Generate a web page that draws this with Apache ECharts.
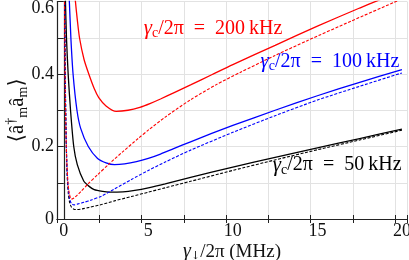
<!DOCTYPE html>
<html><head><meta charset="utf-8">
<script src="https://cdn.jsdelivr.net/npm/echarts@6/dist/echarts.min.js"></script>
<style>html,body{margin:0;padding:0;background:#fff}#c{width:409px;height:260px}</style>
</head><body><div id="c"></div>
<script>
// gamma_down/2pi (MHz), <a^dag a> values
const redSolid = [[0.6,0.65],[0.69,0.6],[0.8,0.55],[0.93,0.5],[1.2,0.44],[1.48,0.4],[1.8,0.36],[2.07,0.335],[2.5,0.312],[3.1,0.297],[3.8,0.3],[4.5,0.308],[5.13,0.319],[5.72,0.331],[6.5,0.348],[7.5,0.37],[8.75,0.398],[10,0.426],[12.5,0.479],[15,0.532],[17.5,0.582],[18.6,0.603],[20,0.63]];
const redDashed = [[0.04,0.65],[0.06,0.5],[0.09,0.35],[0.13,0.24],[0.18,0.16],[0.25,0.1],[0.33,0.07],[0.45,0.055],[0.6,0.058],[0.8,0.066],[1.0,0.075],[1.44,0.097],[2.0,0.122],[2.66,0.151],[3.5,0.186],[4.4,0.222],[5.05,0.247],[6,0.281],[7.5,0.329],[9,0.37],[10.46,0.405],[12.5,0.451],[14.4,0.492],[17,0.546],[19.5,0.597],[20,0.607]];
const blueSolid = [[0.25,0.66],[0.33,0.6],[0.42,0.5],[0.55,0.4],[0.78,0.3],[1.0,0.25],[1.45,0.2],[2.0,0.167],[2.5,0.155],[3.0,0.15],[3.6,0.152],[4.3,0.158],[5,0.167],[5.72,0.179],[6.5,0.194],[7.5,0.213],[8.75,0.236],[10,0.258],[12.5,0.3],[15,0.34],[17.5,0.377],[20,0.412]];
const blueDashed = [[0.05,0.66],[0.07,0.5],[0.1,0.35],[0.15,0.21],[0.2,0.13],[0.27,0.08],[0.35,0.055],[0.45,0.043],[0.6,0.039],[0.8,0.041],[1.2,0.046],[1.6,0.052],[2.23,0.063],[3,0.083],[4,0.109],[5,0.134],[6,0.157],[7.5,0.19],[10,0.239],[12.5,0.285],[15,0.328],[17.5,0.366],[20,0.403]];
const blackSolid = [[0.06,0.66],[0.1,0.6],[0.16,0.5],[0.26,0.4],[0.4,0.3],[0.59,0.2],[0.8,0.15],[1.18,0.105],[1.5,0.09],[1.8,0.081],[2.3,0.076],[2.7,0.074],[3.5,0.075],[4.2,0.079],[5,0.086],[6,0.097],[7.5,0.115],[10,0.143],[12.5,0.17],[15,0.196],[17.5,0.222],[20,0.248]];
const blackDashed = [[0.05,0.66],[0.07,0.5],[0.1,0.35],[0.15,0.2],[0.2,0.12],[0.27,0.07],[0.35,0.045],[0.45,0.033],[0.6,0.027],[0.8,0.026],[1.1,0.028],[1.5,0.032],[2.23,0.04],[3,0.05],[4,0.062],[5,0.074],[6,0.086],[7.5,0.104],[10,0.134],[12.5,0.163],[15,0.191],[17.5,0.218],[20,0.245]];
const xTickValues = [0, 5, 10, 15, 20];
const yTickLabels = ['0', '0.2', '0.4', '0.6'];
const annotations = [
  {value: '200', color: '#ff0000', coord: [8.83, 0.526]},
  {value: '100', color: '#0000ff', coord: [15.74, 0.434]},
  {value: '50', color: '#000000', coord: [16.17, 0.149]}
];

const FONT = "'Liberation Serif', 'DejaVu Serif', serif";
const chart = echarts.init(document.getElementById('c'), null, {renderer: 'canvas'});

function annotRich(color) {
  return {
    g: {fontFamily: FONT, fontSize: 21, color: color, fontStyle: 'italic', lineHeight: 24, verticalAlign: 'middle'},
    s: {fontFamily: FONT, fontSize: 14, color: color, lineHeight: 24, verticalAlign: 'bottom'},
    t: {fontFamily: FONT, fontSize: 20, color: color, lineHeight: 24, verticalAlign: 'middle'}
  };
}
function markFor(a) {
  return {
    symbol: 'rect', symbolSize: 1, silent: true,
    itemStyle: {color: 'rgba(0,0,0,0)'},
    label: {show: true, position: 'inside',
      formatter: '{g|γ}{s|c}{t|/2π\u2002=\u2002' + a.value + '\u2009kHz}',
      rich: annotRich(a.color)},
    data: [{coord: a.coord}]
  };
}

const axisLineStyle = {color: '#222', width: 1.2};
const series = [
  {data: blackDashed, color: '#000', dashed: true},
  {data: blackSolid, color: '#000', dashed: false, ann: annotations[2]},
  {data: blueDashed, color: '#0000ff', dashed: true},
  {data: blueSolid, color: '#0000ff', dashed: false, ann: annotations[1]},
  {data: redDashed, color: '#ff0000', dashed: true},
  {data: redSolid, color: '#ff0000', dashed: false, ann: annotations[0]}
].map(s => {
  const o = {
    type: 'line', data: s.data, showSymbol: false, smooth: 0.25,
    clip: true, animation: false,
    lineStyle: {color: s.color, width: s.dashed ? 1.1 : 1.3, type: s.dashed ? [3, 1.6] : 'solid'}
  };
  if (s.ann) o.markPoint = markFor(s.ann);
  return o;
});

chart.setOption({
  animation: false,
  backgroundColor: '#fff',
  grid: {left: 57, right: 2, top: 1.5, bottom: 41, containLabel: false, outerBoundsMode: 'none'},
  xAxis: [{
    type: 'value', min: -0.4, max: 20.3, interval: 2.5,
    axisLine: {show: true, lineStyle: axisLineStyle, onZero: false},
    axisTick: {show: true, inside: true, length: 4, lineStyle: {color: '#222'}},
    splitLine: {show: true, lineStyle: {color: '#e2e2e2', width: 1}},
    axisLabel: {customValues: xTickValues, fontFamily: FONT, fontSize: 18, color: '#111', margin: 3,
      formatter: v => String(v)},
    name: '{g|γ}{s|↓}{t|/2π (MHz)}', nameLocation: 'middle', nameGap: 23, nameMoveOverlap: false,
    nameTextStyle: {verticalAlign: 'top', rich: {
      g: {fontFamily: FONT, fontSize: 20, fontStyle: 'italic', color: '#111', lineHeight: 20, verticalAlign: 'middle'},
      s: {fontFamily: "'DejaVu Serif', serif", fontSize: 11, color: '#111', lineHeight: 20, verticalAlign: 'bottom'},
      t: {fontFamily: FONT, fontSize: 19, color: '#111', lineHeight: 20, verticalAlign: 'middle'}
    }}
  }, {
    type: 'value', position: 'top', min: -0.4, max: 20.3, interval: 2.5,
    axisLine: {show: true, lineStyle: axisLineStyle},
    axisTick: {show: true, inside: true, length: 4, lineStyle: {color: '#222'}},
    splitLine: {show: false}, axisLabel: {show: false}
  }],
  yAxis: [{
    type: 'value', min: 0, max: 0.6, interval: 0.1,
    axisLine: {show: true, lineStyle: axisLineStyle, onZero: false},
    axisTick: {show: true, inside: true, length: 4, lineStyle: {color: '#222'}},
    splitLine: {show: true, lineStyle: {color: '#e2e2e2', width: 1}},
    axisLabel: {fontFamily: FONT, fontSize: 18, color: '#111', margin: 3,
      formatter: v => { const s = String(Math.round(v*10)/10); if (yTickLabels.indexOf(s) < 0) return ''; return s === '0.6' ? '{top|' + s + '}' : s; },
      rich: {top: {fontFamily: FONT, fontSize: 18, color: '#111', padding: [14, 0, 0, 0]}}},
    name: '{t|⟨â}{p|†}{b|m}{t|â}{b|m}{t|⟩}', nameLocation: 'middle', nameGap: 27, nameMoveOverlap: false,
    nameTextStyle: {rich: {
      t: {fontFamily: FONT, fontSize: 21, color: '#111', lineHeight: 26, verticalAlign: 'middle'},
      p: {fontFamily: FONT, fontSize: 14, color: '#111', lineHeight: 26, verticalAlign: 'top'},
      b: {fontFamily: FONT, fontSize: 14, color: '#111', lineHeight: 26, verticalAlign: 'bottom'}
    }}
  }, {
    type: 'value', position: 'right', min: 0, max: 0.6, interval: 0.1,
    axisLine: {show: true, lineStyle: axisLineStyle},
    axisTick: {show: true, inside: true, length: 4, lineStyle: {color: '#222'}},
    splitLine: {show: false}, axisLabel: {show: false}
  }],
  series: series
});
</script></body></html>
